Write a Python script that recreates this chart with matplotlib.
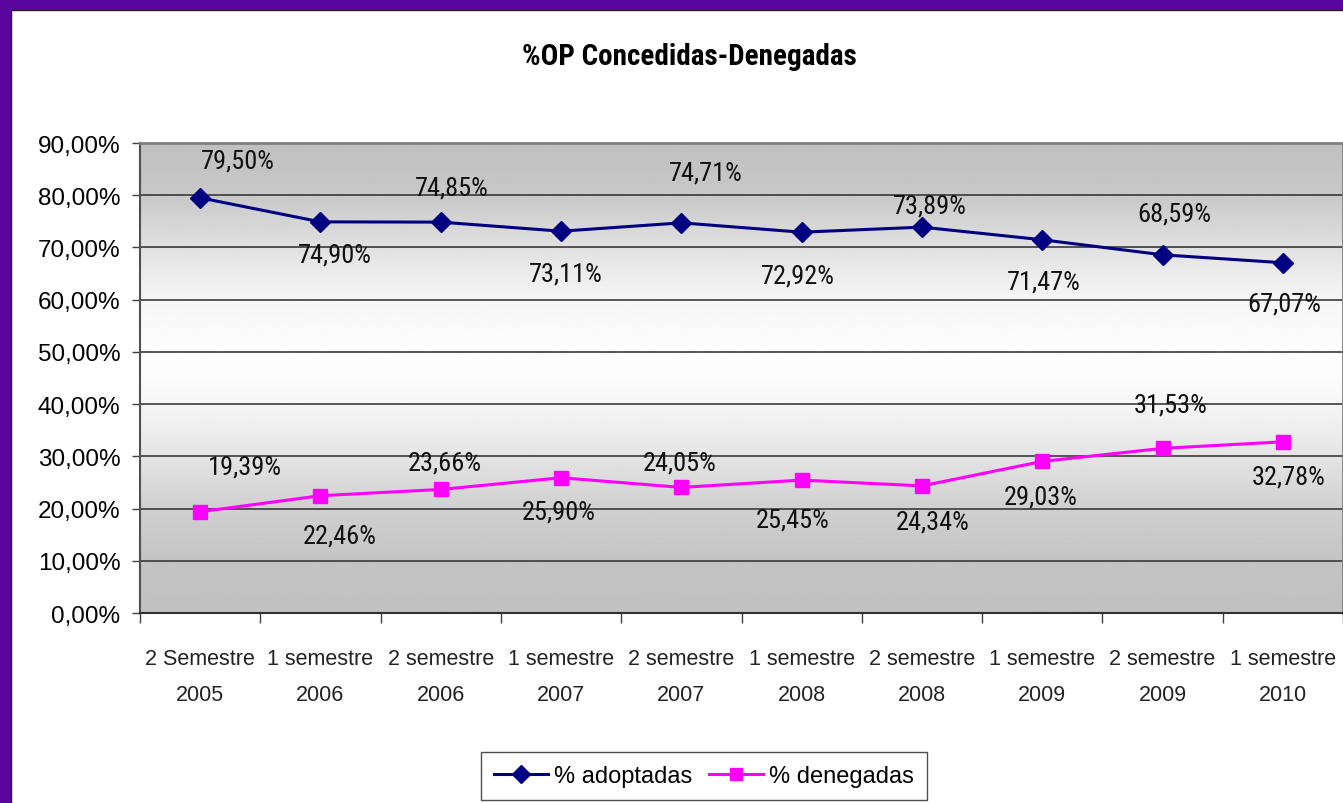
import numpy as np
import matplotlib
matplotlib.use("Agg")
import matplotlib.pyplot as plt
from matplotlib.patches import Rectangle
from matplotlib.lines import Line2D
from matplotlib import font_manager

# data
categorias = ['2 Semestre\n2005', '1 semestre\n2006', '2 semestre\n2006', '1 semestre\n2007',
              '2 semestre\n2007', '1 semestre\n2008', '2 semestre\n2008', '1 semestre\n2009',
              '2 semestre\n2009', '1 semestre\n2010']
adoptadas = [79.50, 74.90, 74.85, 73.11, 74.71, 72.92, 73.89, 71.47, 68.59, 67.07]
denegadas = [19.39, 22.46, 23.66, 25.90, 24.05, 25.45, 24.34, 29.03, 31.53, 32.78]

# label offsets in pixels (dx, dy), as the labels were placed in the original
off_adopt = [(38, 37), (14, -33), (11, 35), (5, -42), (24, 50), (-4, -43), (8, 22), (1, -42), (12, 41), (1, -41)]
off_deneg = [(45, 45), (19, -40), (4, 27), (-2, -34), (-2, 25), (-9, -39), (11, -36), (-2, -35), (8, 44), (6, -35)]

NAVY = '#000080'
MAGENTA = '#FF00FF'
PURPLE = '#5B069E'
sans = ['Liberation Sans', 'DejaVu Sans']

# pick a condensed face if one is installed
names = {f.name for f in font_manager.fontManager.ttflist}
cond = [n for n in ['Roboto Condensed', 'Open Sans Condensed', 'Noto Sans Condensed',
                    'Liberation Sans Narrow', 'DejaVu Sans Condensed'] if n in names]
narrow = cond + ['DejaVu Sans']

fig = plt.figure(figsize=(13.43, 8.04), dpi=100, facecolor=PURPLE)
fig.patches.append(Rectangle((11 / 1343, -0.05), 1.1, 1 - 11 / 804 + 0.05, transform=fig.transFigure,
                             facecolor='white', edgecolor='#202020', linewidth=1, zorder=-10))

ax = fig.add_axes([140 / 1343, 1 - 614 / 804, 1 - 140 / 1343, (614 - 144) / 804])
x = np.arange(len(categorias))
ax.set_xlim(-0.5, len(categorias) - 0.5)
ax.set_ylim(0, 90)

# gradient background of the plot area
ys = np.linspace(0, 90, 400)
stops_y = [0, 10, 20, 30, 40, 45, 50, 60, 70, 80, 90]
stops_v = [192, 196, 208, 228, 246, 252, 253, 246, 225, 200, 192]
grad = np.interp(ys, stops_y, stops_v) / 255.0
img = np.repeat(grad[:, None], 2, axis=1)
ax.imshow(img, cmap='gray', vmin=0, vmax=1, aspect='auto', origin='lower',
          extent=[-0.5, len(categorias) - 0.5, 0, 90], zorder=0, interpolation='bilinear')

for v in range(10, 90, 10):
    ax.axhline(v, color='#3a3a3a', linewidth=1.2, zorder=1)

ax.plot(x, adoptadas, color=NAVY, linewidth=2.2, marker='D', markersize=10, zorder=3)
ax.plot(x, denegadas, color=MAGENTA, linewidth=2.2, marker='s', markersize=9.5, zorder=3)

for i in range(len(x)):
    ax.annotate(f'{adoptadas[i]:.2f}%'.replace('.', ','), (x[i], adoptadas[i]),
                xytext=off_adopt[i], textcoords='offset pixels', ha='center', va='center',
                fontsize=19, family=narrow, fontstretch='condensed', color='#111111', zorder=4)
    ax.annotate(f'{denegadas[i]:.2f}%'.replace('.', ','), (x[i], denegadas[i]),
                xytext=off_deneg[i], textcoords='offset pixels', ha='center', va='center',
                fontsize=19, family=narrow, fontstretch='condensed', color='#111111', zorder=4)

# axes styling
for s in ['top', 'right']:
    ax.spines[s].set_color('#808080')
    ax.spines[s].set_linewidth(2)
ax.spines['left'].set_color('#505050')
ax.spines['bottom'].set_color('#303030')
ax.spines['left'].set_linewidth(1.5)
ax.spines['bottom'].set_linewidth(1.5)

ax.set_yticks(range(0, 91, 10))
ax.set_yticklabels([f'{v},00%' for v in range(0, 91, 10)], fontsize=17.5, family=sans)
ax.tick_params(axis='y', direction='out', length=6, width=1, pad=8, color='#404040')

ax.set_xticks(x)
ax.set_xticklabels(categorias, fontsize=15.5, family=sans, linespacing=1.95, color='#222222')
ax.set_xticks(np.arange(-0.5, len(categorias), 1), minor=True)
ax.tick_params(axis='x', which='major', length=0, pad=25)
ax.tick_params(axis='x', which='minor', direction='out', length=7, width=1, color='#404040')

fig.text(0.513, 1 - 57 / 804, '%OP Concedidas-Denegadas', ha='center', va='center',
         fontsize=21, fontweight='bold', family=narrow, fontstretch='condensed')

handles = [Line2D([], [], color=NAVY, linewidth=2.2, marker='D', markersize=9),
           Line2D([], [], color=MAGENTA, linewidth=2.2, marker='s', markersize=8.5)]
leg = fig.legend(handles, ['% adoptadas', '% denegadas'], loc='center', ncol=2,
                 bbox_to_anchor=(704 / 1343, 1 - 777 / 804), prop={'family': sans, 'size': 17},
                 frameon=True, fancybox=False, edgecolor='#222222', handlelength=2.3,
                 columnspacing=0.7, handletextpad=0.25, borderpad=0.55, borderaxespad=0)
leg.get_frame().set_linewidth(1)

fig.savefig('out.png', dpi=100, facecolor=fig.get_facecolor())
